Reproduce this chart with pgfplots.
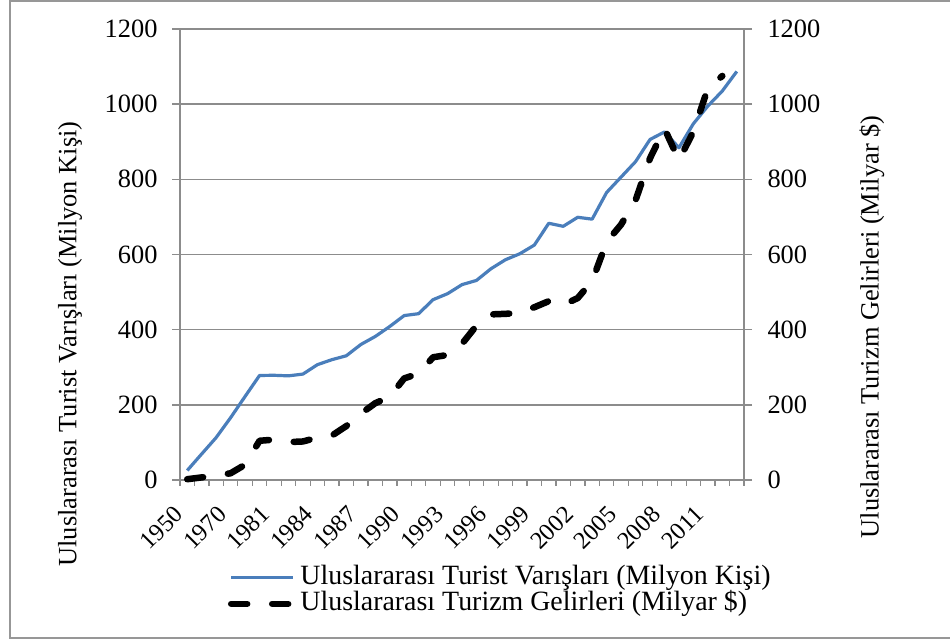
\documentclass[border=0pt]{standalone}
\usepackage{pgfplots}
\pgfplotsset{compat=1.18}
\usepackage{pgfplotstable}
\usepackage{fontspec}
\setmainfont{Liberation Serif}
\definecolor{blueline}{RGB}{74,126,187}
\definecolor{gridgray}{RGB}{140,140,140}

% idx: 0=1950,1=1960,2=1965,3=1970,4=1975,5=1980,6=1981,...,38=2013
\pgfplotstableread{
idx val
0 25.3
1 69.3
2 112.9
3 165.8
4 222.3
5 278.1
6 278.6
7 277.1
8 281.8
9 306.8
10 320.1
11 330.5
12 360.4
13 381.8
14 408.3
15 437.5
16 442.5
17 479.8
18 495.7
19 519.8
20 531.0
21 562.0
22 586.0
23 602.0
24 625.0
25 683.0
26 675.0
27 699.0
28 694.0
29 765.0
30 806.0
31 847.0
32 906.0
33 926.0
34 884.0
35 948.0
36 995.0
37 1035.0
38 1087.0
}\arrivals

\pgfplotstableread{
idx val
0 2.1
1 6.9
2 11.6
3 17.9
4 40.7
5 104.4
6 107.3
7 100.9
8 102.5
9 112.7
10 118.1
11 143.5
12 176.4
13 204.3
14 221.3
15 270.2
16 283.4
17 326.6
18 332.6
19 362.3
20 410.7
21 440.6
22 442.1
23 444.6
24 459.6
25 475.8
26 466.0
27 484.0
28 529.3
29 633.2
30 679.6
31 744.0
32 856.0
33 935.0
34 851.0
35 927.0
36 1042.0
37 1075.0
}\receipts

\pgfplotsset{
  common/.style={
    scale only axis, width=564bp, height=451bp,
    at={(180bp,163bp)}, anchor=south west,
    xmin=-0.5, xmax=38.5, ymin=0, ymax=1200,
    ytick={0,200,...,1200},
    ytick align=outside,
    major tick length=8bp,
    y tick style={gridgray, line width=1.4bp},
    axis line style={gridgray, line width=1.4bp},
    /pgf/number format/assume math mode=true,
    /pgf/number format/1000 sep={},
    tick label style={font=\fontsize{26.5}{31}\selectfont},
    clip=false,
  }
}

\begin{document}
\begin{tikzpicture}[x=1bp,y=1bp]
\useasboundingbox (0,0) rectangle (950,643);
\draw[gridgray!90, line width=2bp] (975,641.8) -- (10,641.8) -- (10,5) -- (975,5);

\begin{axis}[common,
  axis y line*=left, axis x line*=bottom,
  ymajorgrids, grid style={gridgray, line width=1.4bp},
  yticklabel style={xshift=-11bp},
  xtick={0,3,...,36},
  xticklabels={1950,1970,1981,1984,1987,1990,1993,1996,1999,2002,2005,2008,2011},
  minor xtick={-0.5,0.5,...,38.5},
  xtick align=outside,
  major x tick style={draw=none},
  minor x tick style={gridgray, line width=1.2bp},
  minor tick length=6bp,
  xticklabel style={font=\fontsize{24.5}{29}\selectfont, xshift=-6bp, yshift=-20bp, rotate=45, anchor=east},
]
\addplot[blueline, line width=3.2bp, line join=round, no markers] table[x=idx, y=val] {\arrivals};
\end{axis}

\begin{axis}[common,
  axis y line*=right, axis x line=none,
  yticklabel style={xshift=12bp},
  legend style={draw=none, fill=none, inner sep=0pt, outer sep=0pt,
    at={(axis description cs:0.085,-0.188)}, anchor=north west,
    font=\fontsize{28}{32}\selectfont,
    nodes={inner sep=0pt, text height=20bp, text depth=6bp},
    column sep=4bp, row sep=0pt},
  legend cell align=left,
  legend image code/.code={\draw[#1] (0bp,0bp) -- (62bp,0bp);},
]
\addlegendimage{blueline, line width=3.2bp}
\addlegendentry{Uluslararası Turist Varışları (Milyon Kişi)}
\addplot[black, line width=6.5bp, line cap=round, line join=round, dash pattern=on 16bp off 25bp, no markers] table[x=idx, y=val] {\receipts};
\addlegendentry{Uluslararası Turizm Gelirleri (Milyar \$)}
\end{axis}

\node[rotate=90, font=\fontsize{26.5}{30}\selectfont] at (70, 299) {Uluslararası Turist Varışları (Milyon Kişi)};
\node[rotate=90, font=\fontsize{26.5}{30}\selectfont] at (872, 316) {Uluslararası Turizm Gelirleri (Milyar \$)};
\end{tikzpicture}
\end{document}
